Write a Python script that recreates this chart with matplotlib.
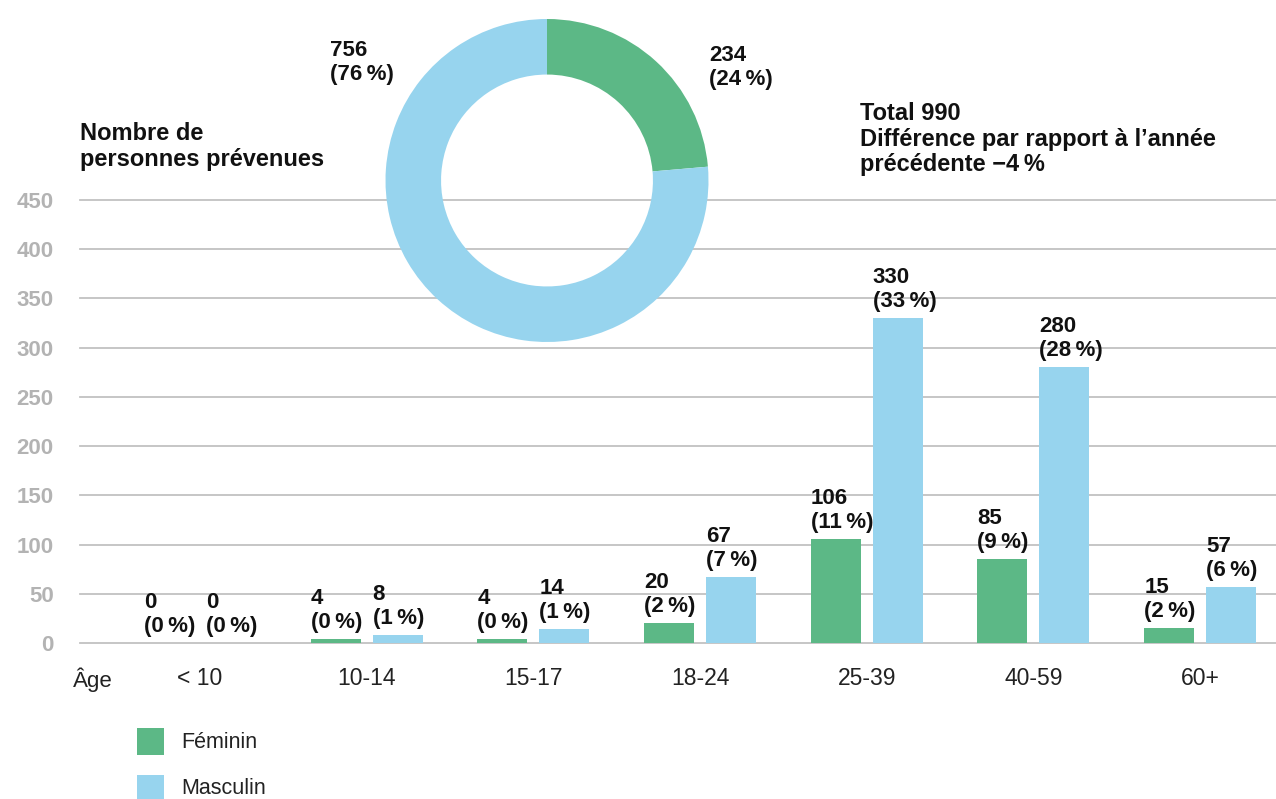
import matplotlib
matplotlib.use('Agg')
import matplotlib.pyplot as plt
from matplotlib.patches import Rectangle
import numpy as np

plt.rcParams['font.family'] = ['Liberation Sans', 'DejaVu Sans']

# ---- data ----
categories = ['< 10', '10-14', '15-17', '18-24', '25-39', '40-59', '60+']
feminin = [0, 4, 4, 20, 106, 85, 15]
masculin = [0, 8, 14, 67, 330, 280, 57]
feminin_pct = [0, 0, 0, 2, 11, 9, 2]
masculin_pct = [0, 1, 1, 7, 33, 28, 6]
series_names = ['Féminin', 'Masculin']
donut_values = [234, 756]
donut_pct = [24, 76]
total = 990
diff_prev = -4
yticks = [0, 50, 100, 150, 200, 250, 300, 350, 400, 450]

GREEN = '#5cb886'
BLUE = '#97d4ee'
GRID = '#c2c2c2'
TICKGRAY = '#b3b3b3'
TXT = '#111111'

W, H = 1276, 799
fig = plt.figure(figsize=(W / 100, H / 100), dpi=100)


def fx(px):
    return px / W


def fy(py):
    return 1 - py / H


# ---- bar chart ----
ax = fig.add_axes([fx(80), fy(643), fx(W - 80), 443 / H])
x = np.arange(len(categories))
bw = 0.30
off = 0.186
ax.bar(x - off, feminin, bw, color=GREEN, zorder=2)
ax.bar(x + off, masculin, bw, color=BLUE, zorder=2)
ax.set_xlim(-0.72, 6.455)
ax.set_ylim(0, 450)
for yv in yticks:
    ax.axhline(yv, color=GRID, lw=1.3, zorder=0, clip_on=False)
for s in ax.spines.values():
    s.set_visible(False)
ax.set_yticks(yticks)
ax.set_yticklabels([str(v) for v in yticks], color=TICKGRAY,
                   fontweight='bold', fontsize=16)
ax.set_xticks(x)
ax.set_xticklabels(categories, fontsize=16.5, color='#222222')
ax.tick_params(axis='y', length=0, pad=19)
ax.tick_params(axis='x', length=0, pad=17)

lab_kw = dict(ha='left', va='bottom', fontsize=16, fontweight='bold',
              color=TXT, linespacing=1.2, zorder=3, clip_on=False)
for i in range(len(categories)):
    ax.text(x[i] - off - bw / 2, feminin[i] + 6,
            f"{feminin[i]}\n({feminin_pct[i]}\u2009%)", **lab_kw)
    ax.text(x[i] + off - bw / 2, masculin[i] + 6,
            f"{masculin[i]}\n({masculin_pct[i]}\u2009%)", **lab_kw)

fig.text(fx(73), fy(680), 'Âge', fontsize=16, color='#222222',
         ha='left', va='center')

# ---- titles ----
fig.text(fx(80), fy(122), 'Nombre de\npersonnes prévenues', fontsize=17,
         fontweight='bold', color=TXT, ha='left', va='top', linespacing=1.15)
fig.text(fx(860), fy(102),
         f"Total {total}\nDifférence par rapport à l’année\nprécédente \u2212{abs(diff_prev)}\u2009%",
         fontsize=17, fontweight='bold', color=TXT, ha='left', va='top',
         linespacing=1.15)

# ---- donut ----
r = 161.5
cx, cy = 547, 180.5
ax2 = fig.add_axes([fx(cx - r), fy(cy + r), 2 * r / W, 2 * r / H])
ax2.pie(donut_values, colors=[GREEN, BLUE], startangle=90, counterclock=False,
        radius=1, wedgeprops=dict(width=0.344, linewidth=0))
ax2.set_xlim(-1, 1)
ax2.set_ylim(-1, 1)
ax2.set_aspect('equal')
ax2.axis('off')

fig.text(fx(709), fy(45), f"{donut_values[0]}\n({donut_pct[0]}\u2009%)",
         fontsize=16, fontweight='bold', color=TXT, ha='left', va='top',
         linespacing=1.2)
fig.text(fx(330), fy(40), f"{donut_values[1]}\n({donut_pct[1]}\u2009%)",
         fontsize=16, fontweight='bold', color=TXT, ha='left', va='top',
         linespacing=1.2)

# ---- legend ----
for k, (name, col) in enumerate(zip(series_names, [GREEN, BLUE])):
    top = 728 + k * 47
    fig.add_artist(Rectangle((fx(137), fy(top + 27)), 27 / W, 27 / H,
                             transform=fig.transFigure, color=col,
                             linewidth=0))
    fig.text(fx(181), fy(top + 14), name, fontsize=15.5, color='#222222',
             ha='left', va='center')

fig.savefig('out.png', dpi=100)
